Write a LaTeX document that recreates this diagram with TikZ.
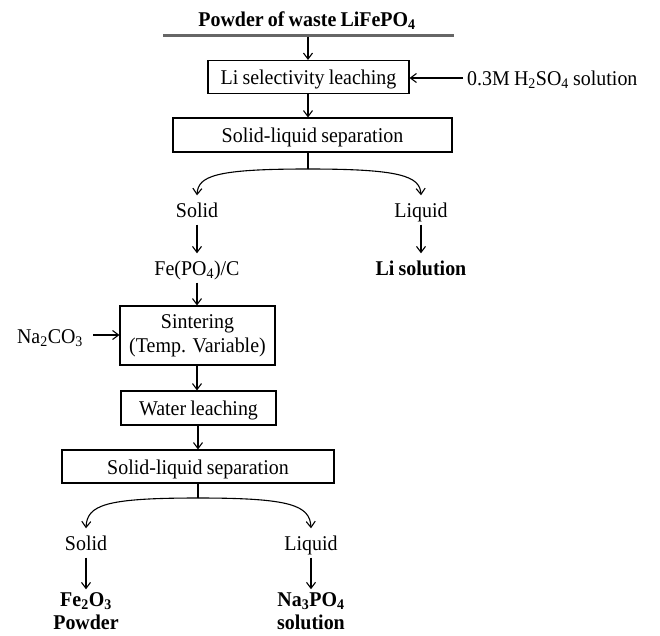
\documentclass[tikz,border=0pt]{standalone}
\usepackage{fontspec}
\setmainfont[FakeStretch=0.95]{Liberation Serif}
\usetikzlibrary{arrows.meta}
\newcommand{\myfont}{\fontsize{21}{23}\selectfont\spaceskip=0.2em plus 0.05em\relax}
\newcommand{\myfontb}{\fontsize{21}{23}\selectfont\spaceskip=0.2em plus 0.05em\relax}
\begin{document}
\begin{tikzpicture}[x=1pt,y=-1pt,
  every node/.style={font=\myfont},
  box/.style={draw, line width=1.1pt, inner sep=0pt},
  lbl/.style={inner sep=5pt, align=center},
  one/.style={text height=17pt, text depth=2pt},
  arr/.style={-{Straight Barb[length=6pt,width=9pt]}, line width=1.1pt},
  link/.style={line width=1.1pt}]
\useasboundingbox (0,0) rectangle (660,635);
% title
\node[lbl, one, font=\myfont\bfseries] (title) at (307,19) {Powder of waste LiFePO\textsubscript{4}};
\draw[line width=3pt, gray!80!black] (163,35) -- (454,35);
\coordinate (feed) at (308,36.5);
% boxes
\node[box, one, minimum width=201pt, minimum height=33pt] (leach) at (308.5,77) {Li selectivity leaching};
\node[box, one, minimum width=279pt, minimum height=34pt] (sep1) at (312.5,135) {Solid-liquid separation};
\node[box, minimum width=155pt, minimum height=59pt, align=center, font=\fontsize{21}{24}\selectfont] (sinter) at (197.5,335.5) {Sintering\\(Temp. Variable)};
\node[box, one, minimum width=155pt, minimum height=34pt] (water) at (198.5,408) {Water leaching};
\node[box, one, minimum width=272pt, minimum height=33pt] (sep2) at (198,466.5) {Solid-liquid separation};
% labels
\node[lbl, one, anchor=west, inner sep=0pt] (acid) at (467,78) {0.3M H\textsubscript{2}SO\textsubscript{4} solution};
\node[lbl, one] (solid1) at (197,210) {Solid};
\node[lbl, one] (liquid1) at (421,210) {Liquid};
\node[lbl, one] (fepo) at (197,268) {Fe(PO\textsubscript{4})/C};
\node[lbl, one, font=\myfont\bfseries] (lisol) at (421,268) {Li solution};
\node[lbl, one, inner sep=0pt] (naco) at (50,336) {Na\textsubscript{2}CO\textsubscript{3}};
\node[lbl, one] (solid2) at (86,543) {Solid};
\node[lbl, one] (liquid2) at (311,543) {Liquid};
\node[lbl, inner sep=3pt, font=\myfontb\bfseries] (fe2o3) at (86,611) {Fe\textsubscript{2}O\textsubscript{3}\\Powder};
\node[lbl, inner sep=3pt, font=\myfontb\bfseries] (na3po4) at (311,611) {Na\textsubscript{3}PO\textsubscript{4}\\solution};
% connectors
\draw[arr] (feed) -- (leach.north -| feed);
\coordinate (acidstart) at (463,78);
\draw[arr] (acidstart) -- (leach.east |- acidstart);
\draw[arr] (leach.south -| feed) -- (sep1.north -| feed);
\coordinate (split1) at (308,169);
\draw[link] (sep1.south -| split1) -- (split1);
\draw[arr] (split1) .. controls (215,169) and (198,176) .. (solid1.north);
\draw[arr] (split1) .. controls (400,169) and (420,176) .. (liquid1.north);
\draw[arr] (solid1.south) -- (fepo.north);
\draw[arr] (liquid1.south) -- (lisol.north);
\draw[arr] (fepo.south) -- (sinter.north -| fepo.south);
\coordinate (nastart) at (93,335);
\draw[arr] (nastart) -- (sinter.west |- nastart);
\draw[arr] (sinter.south -| fepo.south) -- (water.north -| fepo.south);
\coordinate (split2) at (198,498);
\draw[arr] (water.south -| split2) -- (sep2.north -| split2);
\draw[link] (sep2.south -| split2) -- (split2);
\draw[arr] (split2) .. controls (105,498) and (87,505) .. (solid2.north);
\draw[arr] (split2) .. controls (290,498) and (310,505) .. (liquid2.north);
\draw[arr] (solid2.south) -- (fe2o3.north);
\draw[arr] (liquid2.south) -- (na3po4.north);
\end{tikzpicture}
\end{document}
